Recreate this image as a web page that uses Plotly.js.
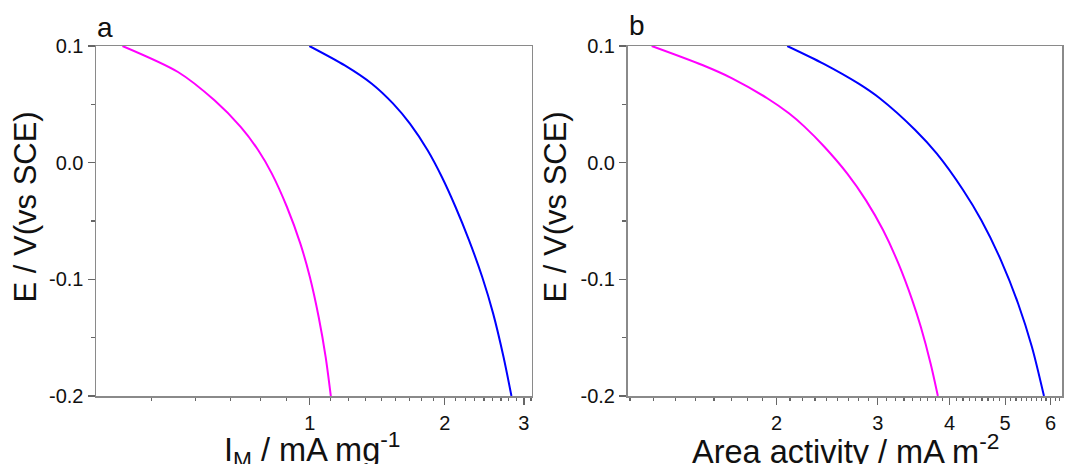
<!DOCTYPE html>
<html>
<head>
<meta charset="utf-8">
<script src="https://cdn.plot.ly/plotly-3.0.1.min.js"></script>
<style>html,body{margin:0;padding:0;background:#fff;}#chart{width:1065px;height:464px;}</style>
</head>
<body>
<div id="chart"></div>
<script>
// Panel a: mass activity (mA mg^-1) vs potential
const aMagentaI = [0.3825, 0.5087, 0.6134, 0.7016, 0.7679, 0.8234, 0.8897, 0.9530, 1.0007, 1.0469, 1.0852, 1.1143];
const aMagentaE = [0.1, 0.0777, 0.0534, 0.0306, 0.0106, -0.0094, -0.038, -0.0694, -0.098, -0.1323, -0.1666, -0.2];
const aBlueI = [0.998, 1.197, 1.375, 1.534, 1.672, 1.831, 1.970, 2.113, 2.265, 2.423, 2.563, 2.703, 2.815];
const aBlueE = [0.1, 0.0834, 0.0677, 0.0506, 0.0334, 0.0106, -0.0123, -0.038, -0.0666, -0.098, -0.1294, -0.1666, -0.2];

// Panel b: area activity (mA m^-2) vs potential
const bMagentaA = [1.212, 1.485, 1.673, 1.926, 2.101, 2.236, 2.424, 2.655, 2.862, 3.066, 3.260, 3.446, 3.566, 3.709, 3.818];
const bMagentaE = [0.1, 0.0837, 0.0723, 0.0552, 0.0423, 0.0309, 0.0134, -0.0094, -0.0323, -0.058, -0.0866, -0.118, -0.1409, -0.1723, -0.2];
const bBlueA = [2.087, 2.412, 2.779, 3.024, 3.486, 3.802, 4.224, 4.545, 4.917, 5.268, 5.567, 5.842];
const bBlueE = [0.1, 0.0849, 0.0677, 0.0552, 0.028, 0.0077, -0.0234, -0.0494, -0.0837, -0.1209, -0.158, -0.2];

// Tick labels
const aXTicks = [1, 2, 3];
const bXTicks = [2, 3, 4, 5, 6];
const yTicks = [0.1, 0.0, -0.1, -0.2];
const yTickText = ['0.1', '0.0', '-0.1', '-0.2'];
const yMinor = [0.05, -0.05, -0.15];

function minorVals(lo, hi) {
  const v = [];
  for (let n = 0; n < 7; n++) {
    for (let k = 1; k < 9; k++) {
      const t = n + k / 9;
      if (t > lo && t < hi) v.push(t);
    }
  }
  return v;
}

const aRange = [0.334, 3.12];
const bRange = [1.1, 6.28];

const font = 'Liberation Sans, Arial, sans-serif';
const lineCol = '#8a8a8a';

function xAxis(domain, range, ticks, anchor) {
  return {
    domain: domain, anchor: anchor, type: 'log',
    range: [Math.log10(range[0]), Math.log10(range[1])],
    tickmode: 'array', tickvals: ticks, ticktext: ticks.map(String),
    ticks: 'outside', ticklen: 7, tickwidth: 1.3, tickcolor: '#666',
    ticklabelstandoff: 1,
    showline: true, linecolor: lineCol, linewidth: 1.5, mirror: true,
    showgrid: false, zeroline: false,
    tickfont: {family: font, size: 20, color: '#111'},
    minor: {tickmode: 'array', tickvals: minorVals(range[0], range[1]), ticks: 'outside', ticklen: 3.5, tickwidth: 1.2, tickcolor: '#666', showgrid: false}
  };
}
function yAxis(domain, anchor) {
  return {
    domain: domain, anchor: anchor, range: [-0.2, 0.1],
    tickmode: 'array', tickvals: yTicks, ticktext: yTickText,
    ticks: 'outside', ticklen: 7, tickwidth: 1.3, tickcolor: '#666',
    showline: true, linecolor: lineCol, linewidth: 1.5, mirror: true,
    showgrid: false, zeroline: false,
    tickfont: {family: font, size: 20, color: '#111'},
    minor: {tickmode: 'array', tickvals: yMinor, ticks: 'outside', ticklen: 4, tickwidth: 1.2, tickcolor: '#666', showgrid: false}
  };
}

const W = 1065, H = 464;
const yDom = [(H - 396) / H, (H - 46) / H];

const traces = [
  {x: aMagentaI, y: aMagentaE, xaxis: 'x', yaxis: 'y', mode: 'lines', line: {color: '#ff00ff', width: 2, shape: 'spline', smoothing: 0.8}},
  {x: aBlueI, y: aBlueE, xaxis: 'x', yaxis: 'y', mode: 'lines', line: {color: '#0000ff', width: 2, shape: 'spline', smoothing: 0.8}},
  {x: bMagentaA, y: bMagentaE, xaxis: 'x2', yaxis: 'y2', mode: 'lines', line: {color: '#ff00ff', width: 2, shape: 'spline', smoothing: 0.8}},
  {x: bBlueA, y: bBlueE, xaxis: 'x2', yaxis: 'y2', mode: 'lines', line: {color: '#0000ff', width: 2, shape: 'spline', smoothing: 0.8}}
];

const titleFont = {family: font, size: 31, color: '#111'};
const xTitleFont = {family: font, size: 32.5, color: '#111'};
const layout = {
  width: W, height: H,
  margin: {l: 0, r: 0, t: 0, b: 0},
  paper_bgcolor: '#fff', plot_bgcolor: '#fff',
  showlegend: false,
  xaxis: xAxis([96 / W, 531.5 / W], aRange, aXTicks, 'y'),
  yaxis: yAxis(yDom, 'x'),
  xaxis2: xAxis([627.5 / W, 1062 / W], bRange, bXTicks, 'y2'),
  yaxis2: yAxis(yDom, 'x2'),
  annotations: [
    {text: 'a', xref: 'paper', yref: 'paper', x: 105 / W, y: (H - 28) / H, xanchor: 'center', yanchor: 'middle', showarrow: false, font: {family: font, size: 28, color: '#111'}},
    {text: 'b', xref: 'paper', yref: 'paper', x: 637 / W, y: (H - 26) / H, xanchor: 'center', yanchor: 'middle', showarrow: false, font: {family: font, size: 28, color: '#111'}},
    {text: 'E / V(vs SCE)', xref: 'paper', yref: 'paper', x: 25 / W, y: (H - 207.5) / H, xanchor: 'center', yanchor: 'middle', textangle: -90, showarrow: false, font: titleFont},
    {text: 'E / V(vs SCE)', xref: 'paper', yref: 'paper', x: 555 / W, y: (H - 207.5) / H, xanchor: 'center', yanchor: 'middle', textangle: -90, showarrow: false, font: titleFont},
    {text: 'I<sub>M</sub> / mA mg<sup>-1</sup>', xref: 'paper', yref: 'paper', x: 312 / W, y: 0.033, xanchor: 'center', yanchor: 'middle', showarrow: false, font: xTitleFont},
    {text: 'Area activity / mA m<sup>-2</sup>', xref: 'paper', yref: 'paper', x: 845.5 / W, y: 0.033, xanchor: 'center', yanchor: 'middle', showarrow: false, font: xTitleFont}
  ]
};

Plotly.newPlot('chart', traces, layout, {displayModeBar: false, staticPlot: true});
</script>
</body>
</html>
